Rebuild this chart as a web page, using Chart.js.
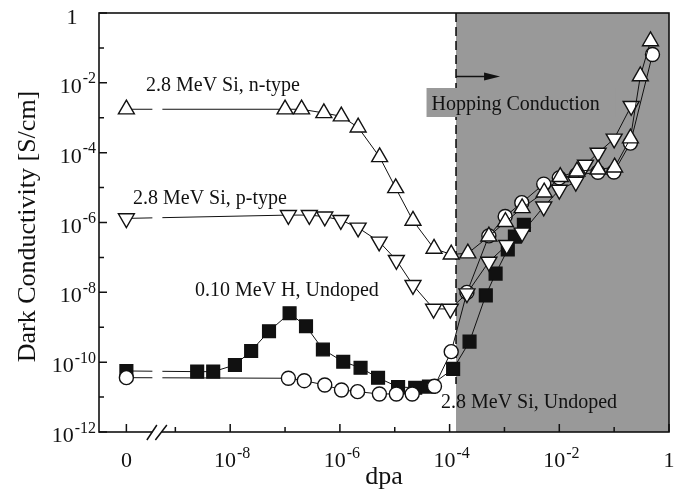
<!DOCTYPE html>
<html>
<head>
<meta charset="utf-8">
<script src="https://cdn.jsdelivr.net/npm/chart.js@4.4.1/dist/chart.umd.min.js"></script>
<style>
html,body{margin:0;padding:0;background:#fff;}
#wrap{width:687px;height:500px;position:relative;}
</style>
</head>
<body>
<div id="wrap"><canvas id="c" width="687" height="500"></canvas></div>
<script>
// ---------- data (dpa on x, dark conductivity in S/cm on y) ----------
const ZERO_DPA = 1.28e-10;      // where the "0" dose sits on the broken axis
const BREAK_DPA = 4.7e-10;      // axis break position
const HOPPING_START = 1.31e-4;  // start of hopping-conduction region

const nTypeZero = 1.75e-3;
const nTypeDpa = [1.0e-7, 2.0e-7, 5.1e-7, 1.06e-6, 2.15e-6, 5.3e-6, 1.04e-5, 2.15e-5, 5.2e-5, 1.07e-4, 2.15e-4, 5.2e-4, 1.04e-3, 2.1e-3, 5.3e-3, 1.04e-2, 2.1e-2, 5.1e-2, 0.102, 0.198, 0.30, 0.46];
const nTypeSigma = [1.75e-3, 1.75e-3, 1.37e-3, 1.10e-3, 5.3e-4, 7.5e-5, 9.7e-6, 1.13e-6, 1.78e-7, 1.22e-7, 1.31e-7, 4.0e-7, 1.04e-6, 2.6e-6, 7.3e-6, 2.03e-5, 2.92e-5, 3.33e-5, 3.8e-5, 2.58e-4, 1.55e-2, 0.156];

const pTypeZero = 1.31e-6;
const pTypeDpa = [1.15e-7, 2.77e-7, 5.3e-7, 1.04e-6, 2.15e-6, 5.2e-6, 1.07e-5, 2.15e-5, 5.1e-5, 1.03e-4, 2.07e-4, 5.2e-4, 1.1e-3, 2.1e-3, 5.2e-3, 1.0e-2, 2.0e-2, 3.0e-2, 5.1e-2, 0.1, 0.204];
const pTypeSigma = [1.63e-6, 1.63e-6, 1.47e-6, 1.17e-6, 7.1e-7, 2.82e-7, 8.4e-8, 1.61e-8, 3.35e-9, 3.35e-9, 9.3e-9, 7.5e-8, 2.25e-7, 5.1e-7, 2.84e-6, 8.6e-6, 1.46e-5, 4.5e-5, 9.9e-5, 2.5e-4, 2.16e-3];

const siUndopedZero = 3.6e-11;
const siUndopedDpa = [1.15e-7, 2.24e-7, 5.3e-7, 1.07e-6, 2.1e-6, 5.25e-6, 1.07e-5, 2.08e-5, 5.3e-5, 1.07e-4, 2.07e-4, 5.2e-4, 1.03e-3, 2.07e-3, 5.2e-3, 1.0e-2, 2.05e-2, 5.06e-2, 9.9e-2, 0.198, 0.5];
const siUndopedSigma = [3.46e-11, 2.95e-11, 2.22e-11, 1.6e-11, 1.43e-11, 1.23e-11, 1.23e-11, 1.23e-11, 2.04e-11, 2.0e-10, 9.95e-9, 4.14e-7, 1.48e-6, 3.7e-6, 1.26e-5, 1.9e-5, 2.3e-5, 2.74e-5, 2.79e-5, 1.88e-4, 6.5e-2];

const hUndopedZero = 5.6e-11;
const hUndopedDpa = [2.5e-9, 4.9e-9, 1.22e-8, 2.41e-8, 5.1e-8, 1.21e-7, 2.41e-7, 4.9e-7, 1.15e-6, 2.38e-6, 4.96e-6, 1.15e-5, 2.36e-5, 4.2e-5, 1.16e-4, 2.31e-4, 4.57e-4, 6.9e-4, 1.15e-3, 1.55e-3, 2.26e-3];
const hUndopedSigma = [5.35e-11, 5.35e-11, 8.3e-11, 2.09e-10, 7.7e-10, 2.52e-9, 1.07e-9, 2.31e-10, 1.03e-10, 6.9e-11, 3.57e-11, 1.95e-11, 1.85e-11, 2.0e-11, 6.4e-11, 3.87e-10, 8.2e-9, 3.44e-8, 1.7e-7, 3.95e-7, 8.55e-7];

// ticks
const xMajorTicks = [ZERO_DPA, 1e-8, 1e-6, 1e-4, 1e-2, 1];
const xTickLabels = ['0', '10^-8', '10^-6', '10^-4', '10^-2', '1'];
const xMinorTicks = [1e-9, 1e-7, 1e-5, 1e-3, 1e-1];
const yMajorTicks = [1, 1e-2, 1e-4, 1e-6, 1e-8, 1e-10, 1e-12];
const yTickLabels = ['1', '10^-2', '10^-4', '10^-6', '10^-8', '10^-10', '10^-12'];
const yMinorTicks = [1e-1, 1e-3, 1e-5, 1e-7, 1e-9, 1e-11];

const seriesNames = ['2.8 MeV Si, n-type', '2.8 MeV Si, p-type', '2.8 MeV Si, Undoped', '0.10 MeV H, Undoped'];
const xTitle = 'dpa';
const yTitle = 'Dark Conductivity [S/cm]';
const regionLabel = 'Hopping Conduction';

// ---------- chart ----------
const FONT = '"Liberation Serif", "Times New Roman", serif';
const INK = '#111';
const pts = (xs, ys, zero) => [{x: ZERO_DPA, y: zero}].concat(xs.map((v, i) => ({x: v, y: ys[i]})));

function ds(label, data, style, radius, fill, rot) {
  return {
    label, data, showLine: true, borderColor: INK, borderWidth: 1, tension: 0,
    pointStyle: style, pointRadius: radius, pointHoverRadius: radius,
    pointRotation: rot || 0, pointBackgroundColor: fill, pointBorderColor: INK,
    pointBorderWidth: 1.4, clip: false
  };
}

function drawPow(ctx, label, x, baseY, align) {
  if (label.indexOf('^') < 0) {
    ctx.font = '22px ' + FONT;
    ctx.textAlign = align; ctx.textBaseline = 'alphabetic';
    ctx.fillText(label, x, baseY);
    return;
  }
  const [b, e] = label.split('^');
  ctx.font = '22px ' + FONT;
  const wb = ctx.measureText(b).width;
  ctx.font = '16px ' + FONT;
  const we = ctx.measureText(e).width;
  const total = wb + we + 1;
  const left = align === 'center' ? x - total / 2 + 2 : x - total;
  ctx.textAlign = 'left'; ctx.textBaseline = 'alphabetic';
  ctx.font = '22px ' + FONT;
  ctx.fillText(b, left, baseY);
  ctx.font = '16px ' + FONT;
  ctx.fillText(e, left + wb + 1, baseY - 9.5);
}

const deco = {
  id: 'deco',
  beforeDatasetsDraw(chart) {
    const {ctx, chartArea: a, scales: {x}} = chart;
    const gx = x.getPixelForValue(HOPPING_START);
    ctx.save();
    ctx.fillStyle = '#999999';
    ctx.fillRect(gx, a.top, a.right - gx, a.bottom - a.top);
    // dashed line (stops above the bottom label)
    ctx.strokeStyle = INK; ctx.lineWidth = 1.6; ctx.setLineDash([9, 5]);
    ctx.beginPath(); ctx.moveTo(gx, a.top); ctx.lineTo(gx, a.bottom - 48); ctx.stroke();
    ctx.setLineDash([]);
    // label box covers the dashed line
    ctx.fillStyle = '#999999';
    ctx.fillRect(gx - 29.5, a.top + 75, 189, 29);
    // arrow
    const ay = a.top + 63.5;
    ctx.lineWidth = 1.5;
    ctx.beginPath(); ctx.moveTo(gx, ay); ctx.lineTo(gx + 30, ay); ctx.stroke();
    ctx.fillStyle = INK;
    ctx.beginPath(); ctx.moveTo(gx + 44, ay); ctx.lineTo(gx + 28, ay - 4); ctx.lineTo(gx + 28, ay + 4); ctx.closePath(); ctx.fill();
    // label text
    ctx.font = '20px ' + FONT; ctx.textAlign = 'left'; ctx.textBaseline = 'alphabetic';
    ctx.fillText(regionLabel, gx - 24.5, a.top + 96.5);
    ctx.restore();
  },
  afterDatasetsDraw(chart) {
    const {ctx, chartArea: a, scales: {x, y}} = chart;
    ctx.save();
    // gap in the lines at the axis break
    const bx = x.getPixelForValue(BREAK_DPA);
    ctx.fillStyle = '#fff';
    ctx.fillRect(bx - 5, a.top + 2, 10, a.bottom - a.top - 4);
    // frame
    ctx.strokeStyle = INK; ctx.lineWidth = 1.6;
    ctx.strokeRect(a.left, a.top, a.right - a.left, a.bottom - a.top);
    // ticks
    ctx.lineWidth = 1.5;
    ctx.beginPath();
    xMajorTicks.forEach(v => { const p = x.getPixelForValue(v); ctx.moveTo(p, a.bottom); ctx.lineTo(p, a.bottom - 8); });
    xMinorTicks.forEach(v => { const p = x.getPixelForValue(v); ctx.moveTo(p, a.bottom); ctx.lineTo(p, a.bottom - 5); });
    yMajorTicks.forEach(v => { const p = y.getPixelForValue(v); ctx.moveTo(a.left, p); ctx.lineTo(a.left + 8, p); });
    yMinorTicks.forEach(v => { const p = y.getPixelForValue(v); ctx.moveTo(a.left, p); ctx.lineTo(a.left + 5, p); });
    ctx.stroke();
    // axis break marks
    ctx.fillStyle = '#fff';
    ctx.fillRect(bx - 5, a.bottom - 2, 9, 4);
    ctx.beginPath();
    ctx.moveTo(bx - 10.5, a.bottom + 8); ctx.lineTo(bx - 0.5, a.bottom - 7);
    ctx.moveTo(bx - 2, a.bottom + 8); ctx.lineTo(bx + 9.5, a.bottom - 7);
    ctx.stroke();
    // tick labels
    ctx.fillStyle = INK;
    xMajorTicks.forEach((v, i) => drawPow(ctx, xTickLabels[i], x.getPixelForValue(v), a.bottom + 35, 'center'));
    yMajorTicks.forEach((v, i) => {
      const p = y.getPixelForValue(v);
      if (yTickLabels[i].indexOf('^') < 0) drawPow(ctx, yTickLabels[i], a.left - 27, p + 11, 'center');
      else drawPow(ctx, yTickLabels[i], a.left - 3, p + 10, 'right');
    });
    // axis titles
    ctx.font = '26px ' + FONT; ctx.textAlign = 'center'; ctx.textBaseline = 'alphabetic';
    ctx.fillText(xTitle, (a.left + a.right) / 2, a.bottom + 52);
    ctx.save();
    ctx.translate(35, (a.top + a.bottom) / 2 + 4);
    ctx.rotate(-Math.PI / 2);
    ctx.fillText(yTitle, 0, 0);
    ctx.restore();
    // series labels
    ctx.font = '20px ' + FONT; ctx.textAlign = 'left';
    ctx.fillText(seriesNames[0], a.left + 47, a.top + 78);
    ctx.fillText(seriesNames[1], a.left + 34, a.top + 191);
    ctx.fillText(seriesNames[3], a.left + 96, a.top + 283);
    ctx.fillText(seriesNames[2], a.left + 342, a.top + 395);
    ctx.restore();
  }
};

new Chart(document.getElementById('c'), {
  type: 'scatter',
  data: {
    datasets: [
      ds(seriesNames[0], pts(nTypeDpa, nTypeSigma, nTypeZero), 'triangle', 9.2, '#fff', 0),
      ds(seriesNames[1], pts(pTypeDpa, pTypeSigma, pTypeZero), 'triangle', 9.2, '#fff', 180),
      ds(seriesNames[2], pts(siUndopedDpa, siUndopedSigma, siUndopedZero), 'circle', 7, '#fff', 0),
      ds(seriesNames[3], pts(hUndopedDpa, hUndopedSigma, hUndopedZero), 'rect', 9, '#111', 0)
    ]
  },
  options: {
    responsive: false, animation: false, devicePixelRatio: 1,
    layout: {padding: {left: 99, top: 13, right: 18, bottom: 68}},
    plugins: {legend: {display: false}, tooltip: {enabled: false}},
    scales: {
      x: {type: 'logarithmic', min: Math.pow(10, -10.392), max: 1, display: false},
      y: {type: 'logarithmic', min: 1e-12, max: 1, display: false}
    }
  },
  plugins: [deco]
});
</script>
</body>
</html>
